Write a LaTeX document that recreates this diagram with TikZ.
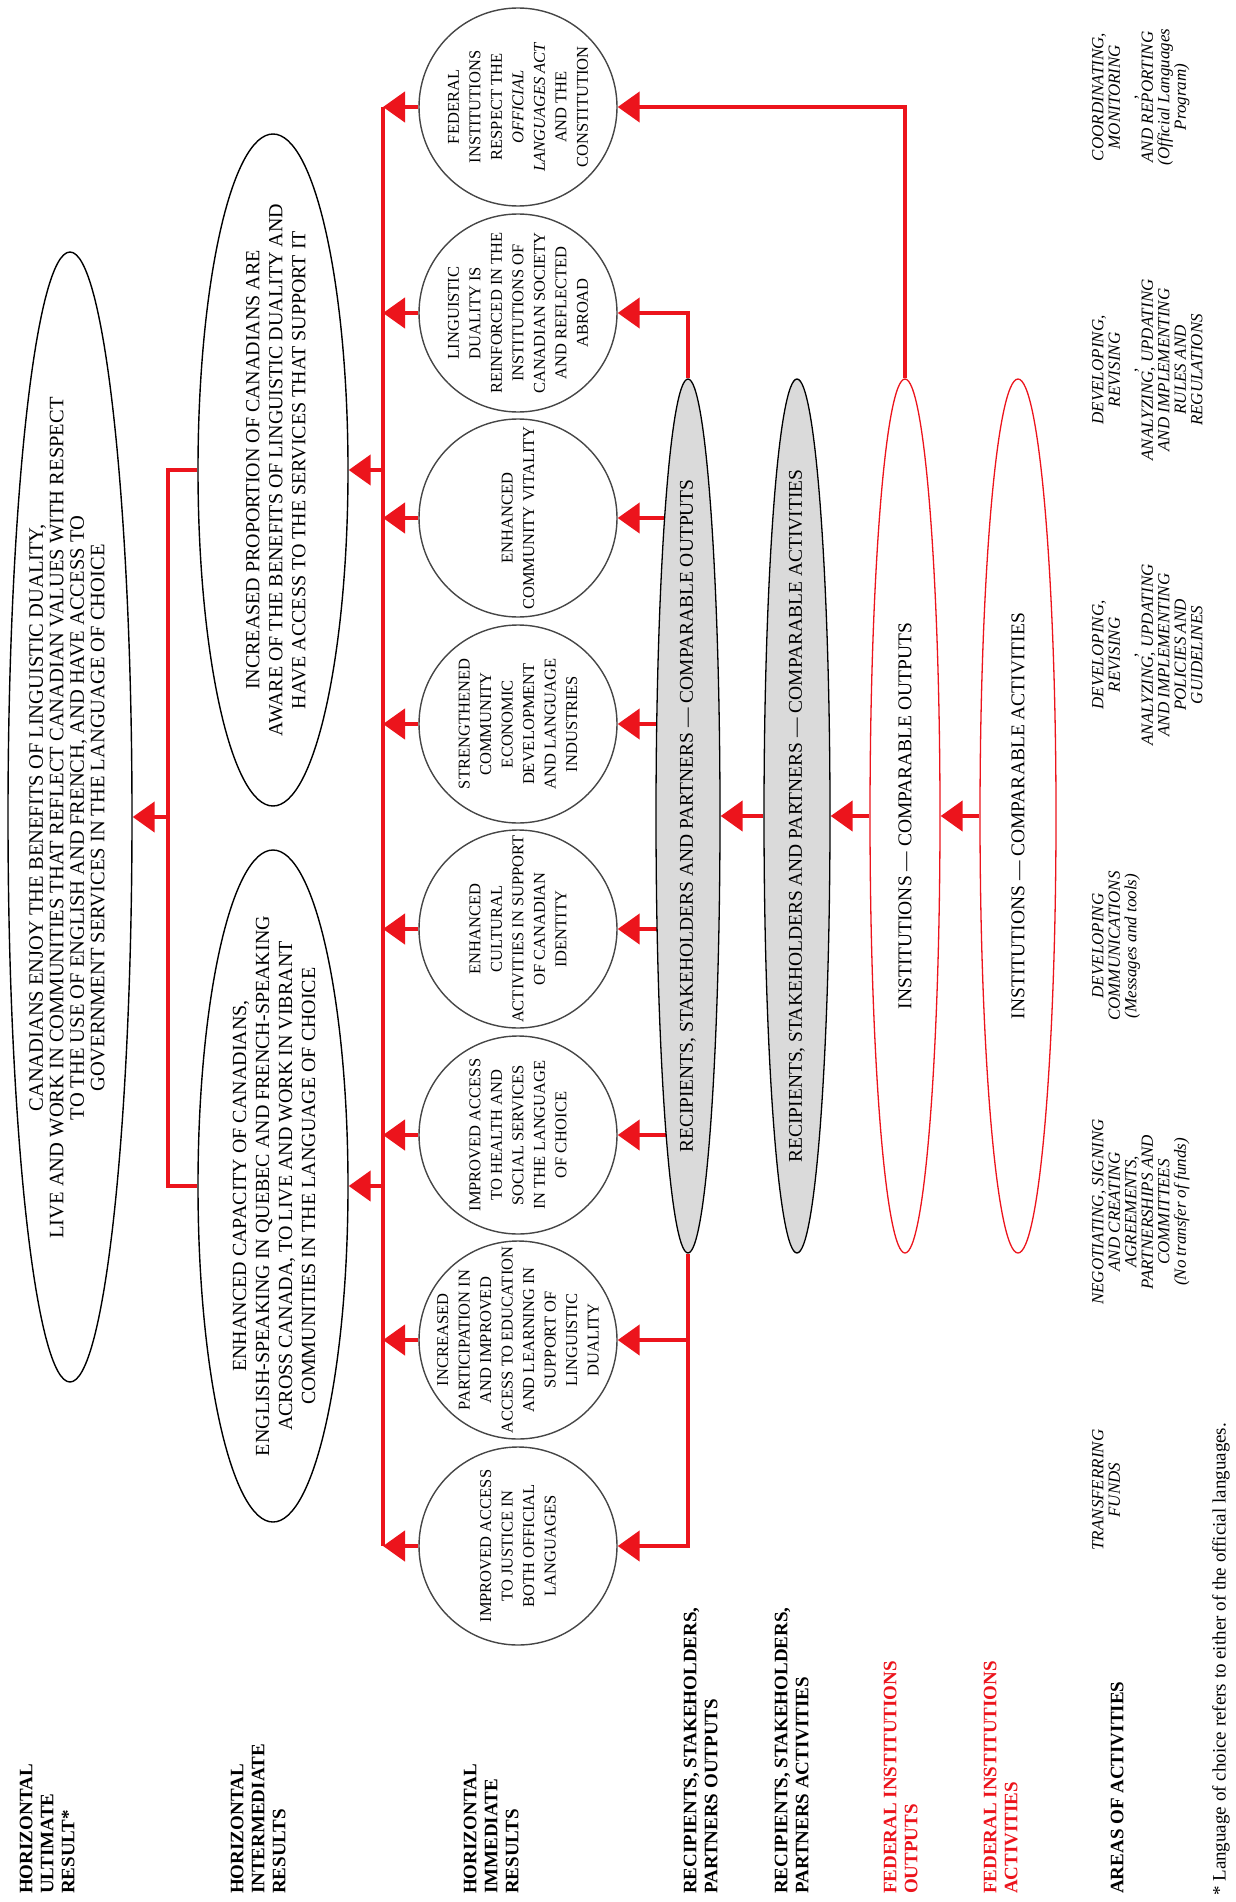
\documentclass[tikz,border=0pt]{standalone}
\usepackage{fontspec}
\setmainfont{Liberation Serif}
\usetikzlibrary{arrows.meta,shapes.geometric}
\definecolor{fedred}{RGB}{236,20,28}
\definecolor{greyfill}{RGB}{218,218,218}
\definecolor{outl}{RGB}{70,70,70}
\pgfdeclarelayer{paper}
\pgfdeclarelayer{wires}
\pgfsetlayers{paper,wires,main}
\begin{document}
\begin{tikzpicture}[x=1pt,y=-1pt,
  redline/.style={draw=fedred,line width=4.5pt},
  arr/.style={draw=fedred,line width=4.5pt,-{Triangle[length=22pt,width=30pt]}},
  bigell/.style={ellipse,draw=black,line width=1.4pt,fill=white,inner sep=0pt},
  circ/.style={circle,draw=outl,line width=1.4pt,fill=white,minimum size=198pt,inner sep=0pt},
  greyell/.style={ellipse,draw=black,line width=1.3pt,fill=greyfill,inner sep=0pt,minimum height=874pt},
  redell/.style={ellipse,draw=fedred,line width=1.3pt,fill=white,inner sep=0pt,minimum height=874pt},
  rtxt/.style={rotate=90,align=center,inner sep=0pt},
  ulttxt/.style={rtxt,font=\fontsize{20.5}{20.5}\selectfont},
  midtxt/.style={rtxt,font=\fontsize{20}{23}\selectfont},
  circtxt/.style={rtxt,font=\fontsize{16.5}{21.5}\selectfont},
  elltxt/.style={rtxt,font=\fontsize{19.5}{21}\selectfont},
  lbl/.style={rotate=90,align=left,inner sep=0pt,anchor=north west,font=\bfseries\fontsize{19}{21}\selectfont},
  ital/.style={rotate=90,align=center,inner sep=0pt,anchor=north,font=\itshape\fontsize{17}{16.5}\selectfont,
    execute at begin node={\lineskiplimit=-20pt}},
  foot/.style={rotate=90,align=left,inner sep=0pt,anchor=north west,font=\fontsize{19}{21}\selectfont}
]
\begin{pgfonlayer}{paper}
\fill[white] (0,0) rectangle (1235,1902);
\end{pgfonlayer}
\useasboundingbox (0,0) rectangle (1235,1902);

% ---------- shapes ----------
\node[bigell,minimum width=124pt,minimum height=1130pt] (ult) at (70,817) {};
\node[ulttxt] (ultt) at (67,818) {CANADIANS ENJOY THE BENEFITS OF LINGUISTIC DUALITY,\\LIVE AND WORK IN COMMUNITIES THAT REFLECT CANADIAN VALUES WITH RESPECT\\TO THE USE OF ENGLISH AND FRENCH, AND HAVE ACCESS TO\\GOVERNMENT SERVICES IN THE LANGUAGE OF CHOICE};

\node[bigell,minimum width=150pt,minimum height=672pt] (ir) at (273,470) {};
\node[midtxt] (irt) at (276,470) {INCREASED PROPORTION OF CANADIANS ARE\\AWARE OF THE BENEFITS OF LINGUISTIC DUALITY AND\\HAVE ACCESS TO THE SERVICES THAT SUPPORT IT};

\node[bigell,minimum width=150pt,minimum height=672pt] (il) at (273,1186) {};
\node[midtxt] (ilt) at (274,1186) {ENHANCED CAPACITY OF CANADIANS,\\ENGLISH-SPEAKING IN QUEBEC AND FRENCH-SPEAKING\\ACROSS CANADA, TO LIVE AND WORK IN VIBRANT\\COMMUNITIES IN THE LANGUAGE OF CHOICE};

\node[circ] (c1) at (518,1546) {};
\node[circtxt] (c1t) at (c1) {IMPROVED ACCESS\\TO JUSTICE IN\\BOTH OFFICIAL\\LANGUAGES};
\node[circ] (c2) at (518,1340) {};
\node[circtxt] (c2t) at (c2) {INCREASED\\PARTICIPATION IN\\AND IMPROVED\\ACCESS TO EDUCATION\\AND LEARNING IN\\SUPPORT OF\\LINGUISTIC\\DUALITY};
\node[circ] (c3) at (518,1135) {};
\node[circtxt] (c3t) at (c3) {IMPROVED ACCESS\\TO HEALTH AND\\SOCIAL SERVICES\\IN THE LANGUAGE\\OF CHOICE};
\node[circ] (c4) at (518,929) {};
\node[circtxt] (c4t) at (c4) {ENHANCED\\CULTURAL\\ACTIVITIES IN SUPPORT\\OF CANADIAN\\IDENTITY};
\node[circ] (c5) at (518,724) {};
\node[circtxt] (c5t) at (c5) {STRENGTHENED\\COMMUNITY\\ECONOMIC\\DEVELOPMENT\\AND LANGUAGE\\INDUSTRIES};
\node[circ] (c6) at (518,518) {};
\node[circtxt] (c6t) at (c6) {ENHANCED\\COMMUNITY VITALITY};
\node[circ] (c7) at (518,313) {};
\node[circtxt] (c7t) at (c7) {LINGUISTIC\\DUALITY IS\\REINFORCED IN THE\\INSTITUTIONS OF\\CANADIAN SOCIETY\\AND REFLECTED\\ABROAD};
\node[circ] (c8) at (518,107) {};
\node[circtxt] (c8t) at (c8) {FEDERAL\\INSTITUTIONS\\RESPECT THE\\\textit{OFFICIAL}\\\textit{LANGUAGES ACT}\\AND THE\\CONSTITUTION};

\node[greyell,minimum width=64pt] (go) at (688,816) {};
\node[elltxt] (got) at (go) {RECIPIENTS, STAKEHOLDERS AND PARTNERS — COMPARABLE OUTPUTS};
\node[greyell,minimum width=66pt] (ga) at (797,816) {};
\node[elltxt] (gat) at (ga) {RECIPIENTS, STAKEHOLDERS AND PARTNERS — COMPARABLE ACTIVITIES};
\node[redell,minimum width=70pt] (ro) at (905,816) {};
\node[elltxt] (rot) at (ro) {INSTITUTIONS — COMPARABLE OUTPUTS};
\node[redell,minimum width=76pt] (ra) at (1018,816) {};
\node[elltxt] (rat) at (ra) {INSTITUTIONS — COMPARABLE ACTIVITIES};

\coordinate (bus) at (383,0);
\coordinate (uj) at (168,0);

% ---------- connectors (under the shapes) ----------
\begin{pgfonlayer}{wires}
  \foreach \c in {c1,c2,c3,c4,c5,c6,c7,c8}
    \draw[arr] (\c.west) -- (\c.west -| bus);
  \draw[redline] (c8.west -| bus) -- (c1.west -| bus);
  \draw[arr] (bus |- ir.east) -- (ir.east);
  \draw[arr] (bus |- il.east) -- (il.east);
  \draw[redline] (ir.west) -- (ir.west -| uj) -- (il.west -| uj) -- (il.west);
  \draw[arr] (uj |- ult.east) -- (ult.east);
  \foreach \c in {c3,c4,c5,c6}
    \draw[arr] (go.center |- \c) -- (\c.east);
  \draw[arr] (go.north) -- (go.north |- c7) -- (c7.east);
  \draw[arr] (go.south) -- (go.south |- c1) -- (c1.east);
  \draw[arr] (go.south |- c2) -- (c2.east);
  \draw[arr] (ro.north) -- (ro.north |- c8) -- (c8.east);
  \draw[arr] (ga.west) -- (go.east);
  \draw[arr] (ro.west) -- (ga.east);
  \draw[arr] (ra.west) -- (ro.east);
\end{pgfonlayer}

% ---------- row labels ----------
\node[lbl] (l1) at (19.5,1894) {HORIZONTAL\\ULTIMATE\\RESULT*};
\node[lbl] (l2) at (230.5,1894) {HORIZONTAL\\INTERMEDIATE\\RESULTS};
\node[lbl] (l3) at (463.5,1894) {HORIZONTAL\\IMMEDIATE\\RESULTS};
\node[lbl] (l4) at (683.5,1894) {RECIPIENTS, STAKEHOLDERS,\\PARTNERS OUTPUTS};
\node[lbl] (l5) at (774.5,1894) {RECIPIENTS, STAKEHOLDERS,\\PARTNERS ACTIVITIES};
\node[lbl,text=fedred] (l6) at (883.5,1894) {FEDERAL INSTITUTIONS\\OUTPUTS};
\node[lbl,text=fedred] (l7) at (983.5,1894) {FEDERAL INSTITUTIONS\\ACTIVITIES};
\node[lbl] (l8) at (1110.5,1894) {AREAS OF ACTIVITIES};

% ---------- areas of activities ----------
\node[ital] (a1) at (1092,1490) {TRANSFERRING\\FUNDS};
\node[ital] (a2) at (1092,1212) {NEGOTIATING, SIGNING\\AND CREATING\\AGREEMENTS,\\PARTNERSHIPS AND\\COMMITTEES\\(No transfer of funds)};
\node[ital] (a3) at (1092,946) {DEVELOPING\\COMMUNICATIONS\\(Messages and tools)};
\node[ital] (a4) at (1092,655) {DEVELOPING,\\REVISING\\,\\ANALYZING, UPDATING\\AND IMPLEMENTING\\POLICIES AND\\GUIDELINES};
\node[ital] (a5) at (1092,370) {DEVELOPING,\\REVISING\\,\\ANALYZING, UPDATING\\AND IMPLEMENTING\\RULES AND\\REGULATIONS};
\node[ital] (a6) at (1092,97) {COORDINATING,\\MONITORING\\,\\AND REPORTING\\(Official Languages\\Program)};

\node[foot] (fn) at (1212,1896) {* Language of choice refers to either of the official languages.};
\end{tikzpicture}
\end{document}
